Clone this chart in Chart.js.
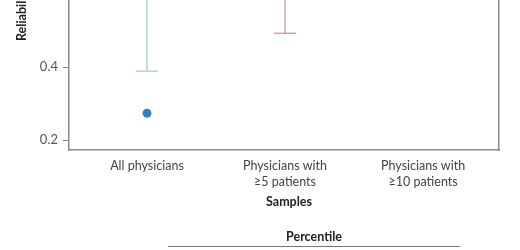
<!DOCTYPE html>
<html>
<head>
<meta charset="utf-8">
<script src="https://cdn.jsdelivr.net/npm/chart.js@4/dist/chart.umd.min.js"></script>
<style>
  html, body { margin: 0; padding: 0; background: #fff; }
  #wrap { width: 520px; height: 250px; position: relative; }
</style>
</head>
<body>
<div id="wrap"><canvas id="c" width="520" height="250"></canvas></div>
<script>
// ---- data ----
const categories = [["All physicians"], ["Physicians with", "\u22655 patients"], ["Physicians with", "\u226510 patients"]];
const categoryPositions = [1, 2, 3];
const ciLower = [0.389, 0.493, null];   // visible lower ends of the intervals
const ciUpper = [0.75, 0.80, null];     // upper ends lie above the visible crop
const pointEstimate = [0.274, null, null];
const yTicks = [0.2, 0.4];
const seriesColors = ["#8dbcd9", "#cf6b78", "#7fb38a"];
const yTitle = "Reliability";
const xTitle = "Samples";
const tableHeader = "Percentile";

const FONT = "Lato, 'Open Sans', 'DejaVu Sans', sans-serif";

const datasets = [];
categoryPositions.forEach((xv, i) => {
  if (ciLower[i] == null) return;
  datasets.push({
    type: 'scatter',
    showLine: true,
    data: [{x: xv, y: ciLower[i]}, {x: xv, y: ciUpper[i]}],
    borderColor: seriesColors[i],
    backgroundColor: seriesColors[i],
    borderWidth: 1,
    pointStyle: 'line',
    pointRadius: [11, 0],
    pointBorderWidth: 1,
    pointBorderColor: seriesColors[i],
    pointHoverRadius: 0
  });
});
datasets.push({
  type: 'scatter',
  data: pointEstimate.map((v, i) => v == null ? null : {x: categoryPositions[i], y: v}).filter(d => d),
  backgroundColor: '#2f82c6',
  borderColor: '#2f82c6',
  pointRadius: 4.5,
  borderWidth: 0
});

const annotate = {
  id: 'annotate',
  afterDraw(chart) {
    const ctx = chart.ctx;
    ctx.save();
    // y title (partially cropped at the top like the reference)
    ctx.translate(22, 41);
    ctx.rotate(-Math.PI / 2);
    ctx.font = "bold 12.5px " + FONT;
    ctx.fillStyle = '#222';
    ctx.textAlign = 'left';
    ctx.textBaseline = 'middle';
    ctx.fillText(yTitle, 0, 0);
    ctx.restore();

    ctx.save();
    ctx.font = "bold 12.5px " + FONT;
    ctx.fillStyle = '#222';
    ctx.textAlign = 'center';
    ctx.textBaseline = 'middle';
    ctx.fillText(xTitle, 289, 202);
    ctx.fillText(tableHeader, 314, 237);
    ctx.strokeStyle = '#777';
    ctx.lineWidth = 1;
    ctx.beginPath();
    ctx.moveTo(168, 246.5);
    ctx.lineTo(460, 246.5);
    ctx.stroke();
    ctx.restore();
  }
};

new Chart(document.getElementById('c'), {
  type: 'scatter',
  data: { datasets },
  plugins: [annotate],
  options: {
    responsive: false,
    animation: false,
    events: [],
    layout: { autoPadding: false, padding: { top: 0, left: 0, right: 21, bottom: 0 } },
    plugins: { legend: { display: false }, tooltip: { enabled: false } },
    scales: {
      x: {
        type: 'linear',
        position: 'bottom',
        min: 0.435,
        max: 3.55,
        afterBuildTicks: s => { s.ticks = categoryPositions.map(v => ({value: v})); },
        afterFit: s => { s.height = 100; s.paddingLeft = 0; s.paddingRight = 0; },
        ticks: {
          autoSkip: false,
          maxRotation: 0,
          padding: 8,
          color: '#444',
          font: { family: FONT, size: 12.5, lineHeight: 1.3 },
          callback: v => { const i = categoryPositions.indexOf(v); return i >= 0 ? categories[i] : ''; }
        },
        grid: { display: false, drawTicks: false, tickLength: 0 },
        border: { display: true, color: '#8a8a8a', width: 1.5 }
      },
      y: {
        type: 'linear',
        position: 'left',
        min: 0.173,
        max: 0.584,
        afterBuildTicks: s => { s.ticks = yTicks.map(v => ({value: v})); },
        afterFit: s => { s.width = 69; s.paddingTop = 0; s.paddingBottom = 0; },
        ticks: {
          padding: 5,
          color: '#555',
          font: { family: FONT, size: 13 },
          callback: v => v.toFixed(1)
        },
        grid: { display: true, drawOnChartArea: false, drawTicks: true, tickLength: 6, color: '#8a8a8a', lineWidth: 1 },
        border: { display: true, color: '#8a8a8a', width: 1.5 }
      },
      yRight: {
        type: 'linear',
        position: 'right',
        min: 0.173,
        max: 0.584,
        ticks: { display: false },
        grid: { display: false },
        afterFit: s => { s.width = 0; s.paddingTop = 0; s.paddingBottom = 0; },
        border: { display: true, color: '#8a8a8a', width: 1.5 }
      }
    }
  }
});
</script>
</body>
</html>
